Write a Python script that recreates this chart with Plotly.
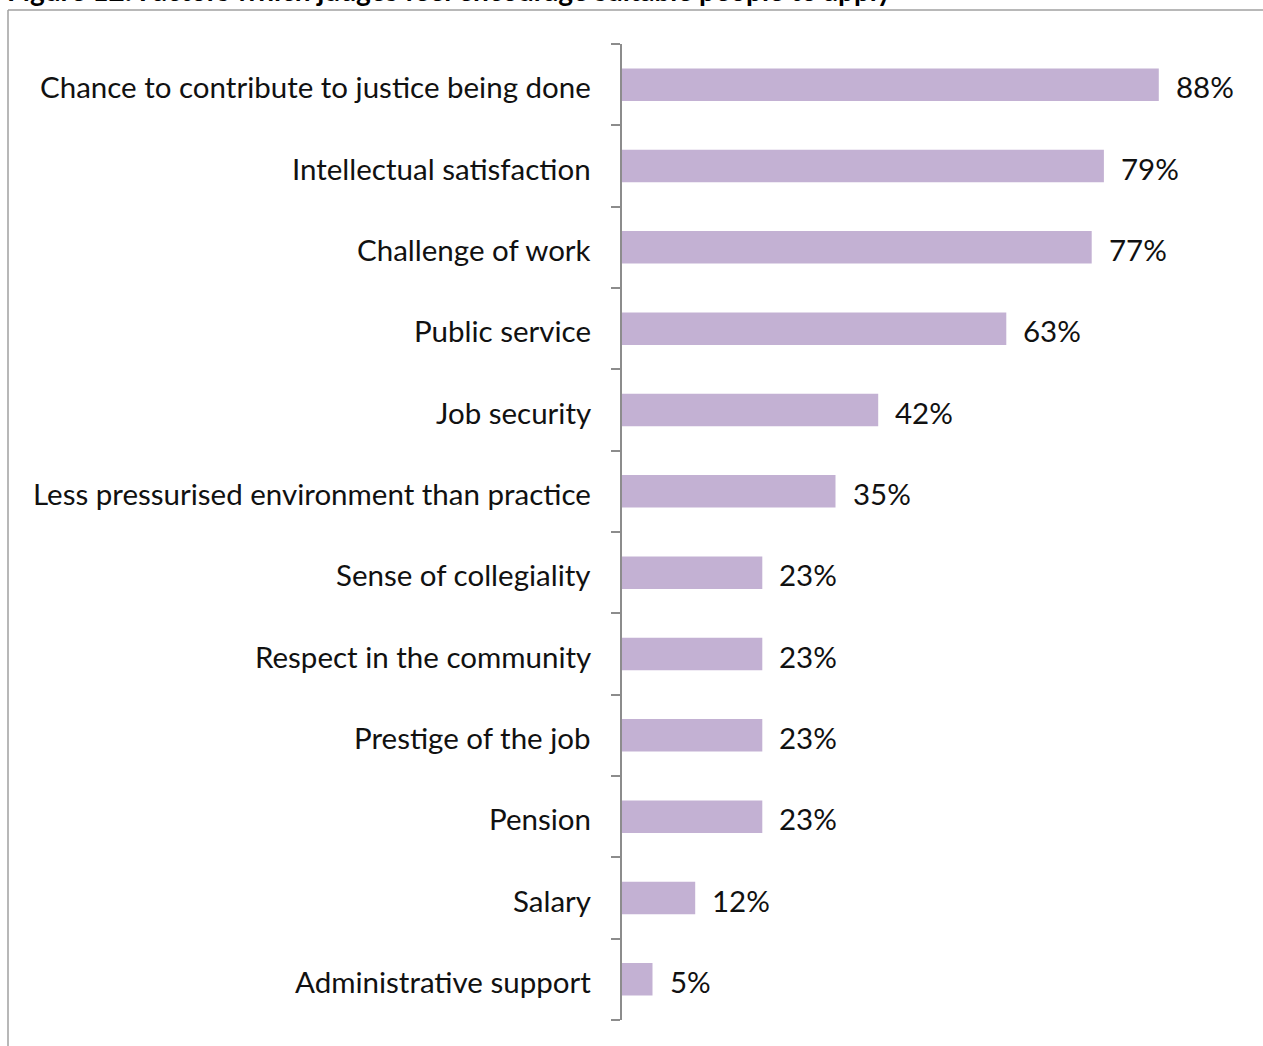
import plotly.graph_objects as go

# Reasons given, top to bottom as listed, with share of judges citing each (%)
reasons = [
    "Chance to contribute to justice being done",
    "Intellectual satisfaction",
    "Challenge of work",
    "Public service",
    "Job security",
    "Less pressurised environment than practice",
    "Sense of collegiality",
    "Respect in the community",
    "Prestige of the job",
    "Pension",
    "Salary",
    "Administrative support",
]
shares = [88, 79, 77, 63, 42, 35, 23, 23, 23, 23, 12, 5]

title_text = "Figure 12: Factors which judges feel encourage suitable people to apply"

BAR_COLOR = "#C3B1D3"
AXIS_GREY = "#8c8c8c"
FONT = "Lato"
FS = 29.5

W, H = 1263, 1046
L, R, T, B = 622, 31, 44, 26

# plot from bottom to top so the first reason sits at the top
cats = reasons[::-1]
vals = shares[::-1]

fig = go.Figure(
    go.Bar(
        x=vals,
        y=cats,
        orientation="h",
        marker=dict(color=BAR_COLOR, line=dict(width=0)),
        hoverinfo="skip",
    )
)

for c, v in zip(cats, vals):
    # category name to the left of the axis
    fig.add_annotation(
        x=0, y=c, xref="x", yref="y",
        text=c, showarrow=False,
        xanchor="right", yanchor="middle", xshift=-29, yshift=-2,
        font=dict(family=FONT, size=FS, color="#111111"),
    )
    # value label just past the end of the bar
    fig.add_annotation(
        x=v, y=c, xref="x", yref="y",
        text=f"{v}%", showarrow=False,
        xanchor="left", yanchor="middle", xshift=15, yshift=-2,
        font=dict(family=FONT, size=FS, color="#111111"),
    )

pw = W - L - R
ph = H - T - B

# chart title, sitting partly above the visible page
fig.add_annotation(
    x=(5 - L) / pw, y=1 + (T + 10) / ph, xref="paper", yref="paper",
    text=f"<b>{title_text}</b>", showarrow=False,
    xanchor="left", yanchor="middle",
    font=dict(family=FONT, size=28, color="#000000"),
)

# outer chart frame (left and top edges)
fig.add_shape(
    type="line", xref="paper", yref="paper",
    x0=(8 - L) / pw, x1=(W + 10 - L) / pw,
    y0=1 + (T - 10) / ph, y1=1 + (T - 10) / ph,
    line=dict(color="#a0a0a0", width=1.5),
)
fig.add_shape(
    type="line", xref="paper", yref="paper",
    x0=(8 - L) / pw, x1=(8 - L) / pw,
    y0=1 + (T - 10) / ph, y1=-(B + 10) / ph,
    line=dict(color="#a0a0a0", width=1.5),
)

fig.update_layout(
    width=W, height=H,
    margin=dict(l=L, r=R, t=T, b=B, pad=0),
    paper_bgcolor="white", plot_bgcolor="white",
    bargap=0.6,
    showlegend=False,
    font=dict(family=FONT, size=FS, color="#111111"),
    xaxis=dict(
        range=[0, 100], visible=False, showgrid=False, zeroline=False,
    ),
    yaxis=dict(
        type="category",
        categoryorder="array", categoryarray=cats,
        range=[-0.5, len(cats) - 0.5],
        showline=True, linecolor=AXIS_GREY, linewidth=1.5,
        ticks="outside", ticklen=9, tickwidth=1.5, tickcolor=AXIS_GREY,
        tickson="boundaries",
        showticklabels=False,
        showgrid=False, zeroline=False,
    ),
)

fig.write_html("out.html")
